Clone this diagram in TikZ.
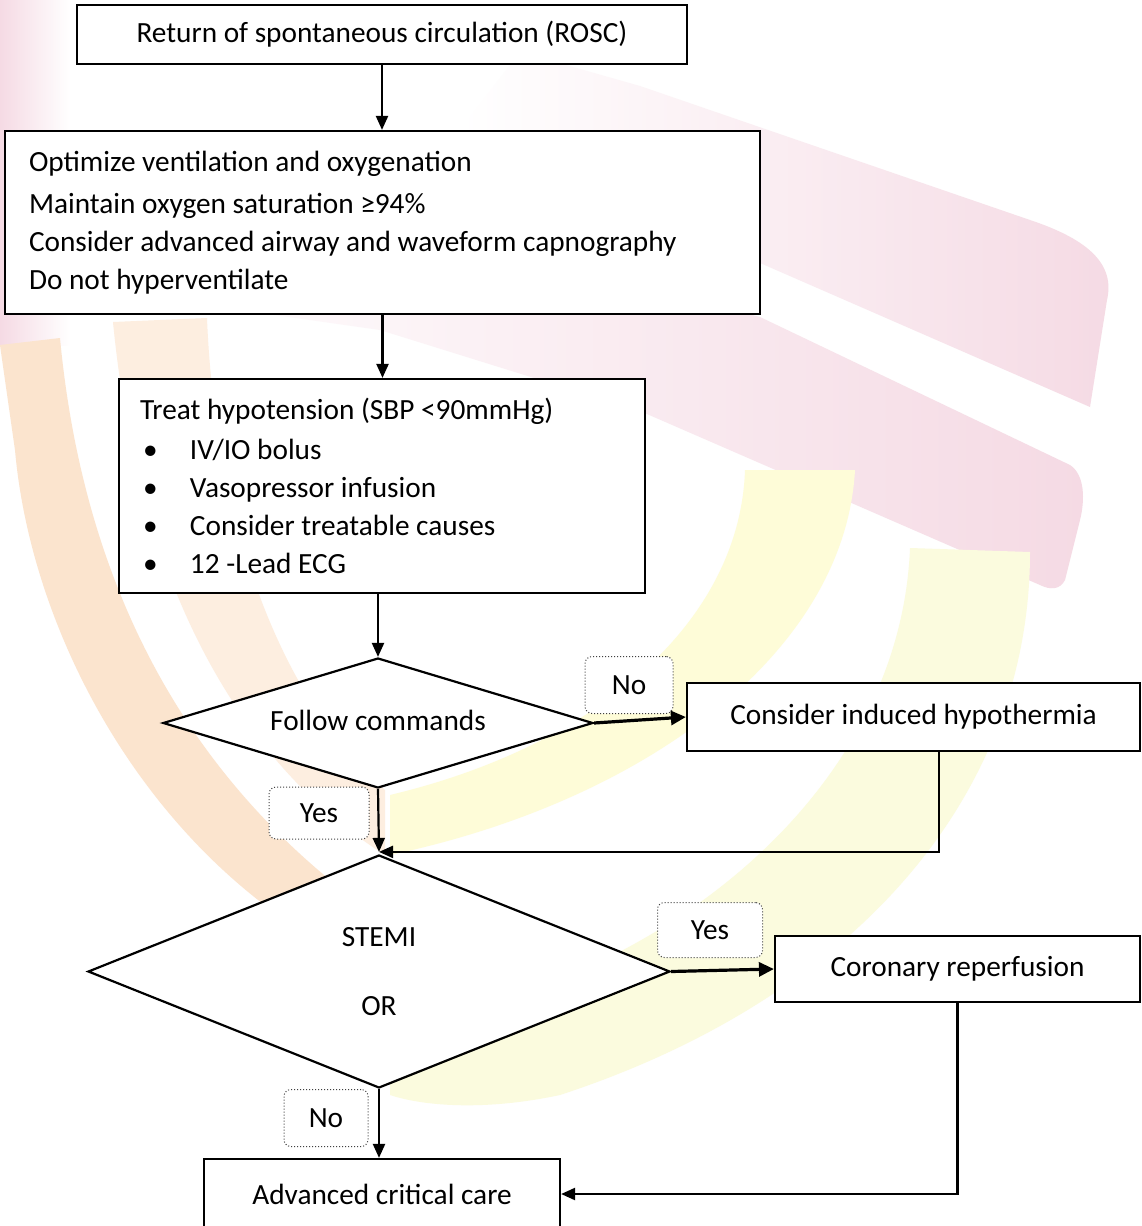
\documentclass[tikz,border=0pt]{standalone}
\usepackage{fontspec}
\setmainfont{Carlito}
\usetikzlibrary{shapes.geometric,arrows.meta,calc}

% watermark tints
\definecolor{wmpink}{RGB}{245,218,228}
\definecolor{wmorange}{RGB}{251,228,206}
\definecolor{wmpeach}{RGB}{253,238,224}
\definecolor{wmyellow}{RGB}{254,252,216}
\definecolor{wmlime}{RGB}{251,251,222}

\begin{document}
\begin{tikzpicture}[x=1pt,y=-1pt,
  every node/.style={font=\fontsize{29.3}{38}\selectfont},
  box/.style={draw=black, line width=2.2pt, fill=white, rectangle, inner sep=0pt, align=center},
  decision/.style={draw=black, diamond, line width=2.2pt, fill=white, inner sep=0pt, align=center},
  tag/.style={draw=black!75, dotted, line width=1pt, rounded corners=7pt, fill=white, inner sep=0pt},
  flow/.style={line width=2.2pt, -{Triangle[length=14pt,width=12pt]}},
  flowthick/.style={line width=3.2pt, -{Triangle[length=15pt,width=14pt]}}]

\useasboundingbox (0,0) rectangle (1141,1226);
\fill[white] (0,0) rectangle (1141,1226);

% background logo stripes
\begin{scope}
\clip (0,0) rectangle (1141,1226);
\shade[left color=wmpink, right color=white] (0,0) rectangle (70,345);
\shade[left color=white, middle color=wmpink, right color=wmpink]
  (460,130) -- (520,52) -- (640,86)
  -- (1030,220) .. controls (1090,240) and (1115,265) .. (1107,300)
  -- (1090,407) -- (760,263) -- (520,160) -- cycle;
\shade[left color=white, middle color=wmpink, right color=wmpink]
  (100,290) -- (350,210) -- (760,317)
  -- (1070,465) .. controls (1085,475) and (1085,500) .. (1080,520)
  -- (1065,580) .. controls (1060,590) and (1050,590) .. (1040,585)
  -- (640,411) -- (380,330) -- cycle;
\fill[wmorange] (0,345) -- (60,338) .. controls (80,550) and (160,740) .. (330,880)
  -- (300,930) .. controls (130,820) and (30,620) .. (15,450) -- cycle;
\fill[wmpeach] (113,322) -- (207,318) .. controls (215,520) and (280,700) .. (385,790)
  -- (385,855) .. controls (250,770) and (140,600) .. (113,322) -- cycle;
\fill[wmyellow] (745,470) -- (855,470) .. controls (845,650) and (650,800) .. (390,855)
  -- (390,795) .. controls (600,745) and (740,620) .. (745,470) -- cycle;
\fill[wmlime] (910,548) -- (1030,552) .. controls (1030,800) and (850,1000) .. (560,1095)
  .. controls (480,1112) and (420,1105) .. (390,1095)
  -- (390,1025) .. controls (650,990) and (900,800) .. (910,548) -- cycle;
\end{scope}

% boxes
\node[box, minimum width=755pt, minimum height=183pt, text width=707pt, align=flush left] (b2) at (382.5,222.5)
  {Optimize ventilation and oxygenation\\[4pt]
   Maintain oxygen saturation ≥94\%\\
   Consider advanced airway and waveform capnography\\
   Do not hyperventilate};
\node[box, minimum width=610pt, minimum height=59pt] (b1) at (382,34.5)
  {Return of spontaneous circulation (ROSC)};
\node[box, minimum width=526pt, minimum height=214pt, text width=484pt, align=flush left] (b3) at (382,486)
  {Treat hypotension (SBP <90mmHg)\\[2pt]
   \makebox[50pt][l]{\hspace{3pt}\textbullet}IV/IO bolus\\
   \makebox[50pt][l]{\hspace{3pt}\textbullet}Vasopressor infusion\\
   \makebox[50pt][l]{\hspace{3pt}\textbullet}Consider treatable causes\\
   \makebox[50pt][l]{\hspace{3pt}\textbullet}12 -Lead ECG};
\node[decision, minimum width=430pt, minimum height=130pt, aspect=3.3] (d1) at (378,723)
  {\raisebox{6pt}{Follow commands}};
\node[box, minimum width=453pt, minimum height=68pt] (b4) at (913.5,717)
  {Consider induced hypothermia};
\node[decision, minimum width=582pt, minimum height=233pt, aspect=2.5] (d2) at (379,971.5)
  {STEMI\\[31pt]OR};
\node[box, minimum width=365pt, minimum height=66pt] (b5) at (957.5,969)
  {Coronary reperfusion};
\node[box, minimum width=356pt, minimum height=70pt] (b6) at (382,1194)
  {Advanced critical care};

% branch tags
\node[tag, minimum width=88pt, minimum height=57pt] (tno1) at (629,685) {No};
\node[tag, minimum width=100pt, minimum height=52pt] (tyes1) at (319,813) {Yes};
\node[tag, minimum width=105pt, minimum height=55pt] (tyes2) at (710,930) {Yes};
\node[tag, minimum width=84pt, minimum height=57pt] (tno2) at (326,1118) {No};

% connectors
\coordinate (j) at ([yshift=2pt]d2.north);
\draw[flow] (b1.south) -- (b1.south |- b2.north);
\draw[flow] (b2.south) -- (b2.south |- b3.north);
\draw[flow] (b3.south -| d1.north) -- (d1.north);
\draw[flowthick] (d1.east) -- (b4.west);
\draw[flow] (d1.south) -- (j);
\draw[flow] ([xshift=25.5pt]b4.south) |- (j);
\draw[flowthick] (d2.east) -- (b5.west);
\draw[flow] (d2.south) -- (d2.south |- b6.north);
\draw[flow] (b5.south) |- (b6.east);
\end{tikzpicture}
\end{document}
